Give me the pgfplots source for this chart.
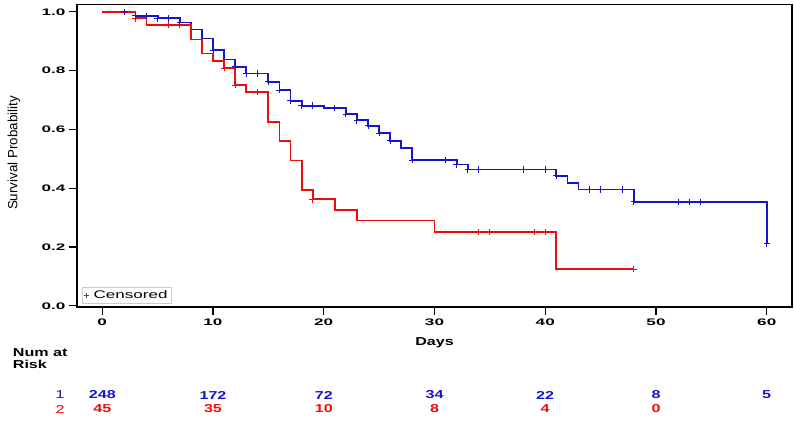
\documentclass[border=0pt]{standalone}
\usepackage{pgfplots}
\pgfplotsset{compat=1.18}
\usepackage{fontspec}
\setmainfont{Liberation Sans}
\newfontfamily\fA{Liberation Sans}[FakeStretch=1.8]
\newfontfamily\fB{Liberation Sans}[FakeStretch=1.4]
\newfontfamily\fC{Liberation Sans}[FakeStretch=1.55]
\definecolor{kmblue}{RGB}{20,20,205}
\definecolor{kmred}{RGB}{240,10,10}
\begin{document}
\begin{tikzpicture}[x=1pt,y=1pt]
\useasboundingbox (0,0) rectangle (796,422);
\begin{axis}[
  at={(77pt,115pt)}, anchor=south west,
  scale only axis, width=715pt, height=302.5pt,
  xmin=-2.28, xmax=62.28, ymin=-0.004, ymax=1.025,
  tick pos=left, tick align=outside, major tick length=8pt,
  xtick={0,10,20,30,40,50,60},
  ytick={0,0.2,0.4,0.6,0.8,1.0},
  /pgf/number format/assume math mode=true,
  yticklabel style={/pgf/number format/.cd, fixed, fixed zerofill, precision=1},
  tick label style={font=\fA\bfseries\fontsize{9.5}{10}\selectfont},
  axis line style={line width=1.3pt, black},
  every tick/.style={line width=1.3pt, black},
  clip=false,
  legend style={at={(axis description cs:0.007,0.012)}, anchor=south west,
    draw=black!20, font=\fC\fontsize{11}{12}\selectfont,
    inner xsep=2pt, inner ysep=1pt,
    /tikz/every odd column/.append style={column sep=3pt}},
  legend cell align=left,
  legend image code/.code={\draw[#1] plot[mark=+, mark size=2.2pt] coordinates {(5pt,0pt)};},
]
\addlegendimage{black!70, line width=0.6pt}
\addlegendentry{Censored}

\addplot[kmblue, line width=1.8pt, const plot, forget plot] coordinates {
(0,1.0)(3,0.986)(5,0.978)(7,0.964)(8,0.940)(9,0.909)(10,0.870)(11,0.838)(12,0.813)(13,0.790)(15,0.762)(16,0.734)(17,0.697)(18,0.681)(20,0.672)(22,0.652)(23,0.631)(24,0.612)(25,0.587)(26,0.561)(27,0.536)(28,0.496)(32,0.481)(33,0.464)(41,0.442)(42,0.419)(43,0.396)(48,0.354)(60,0.211)
};
\addplot[kmred, line width=1.8pt, const plot, forget plot] coordinates {
(0,1.0)(3,0.978)(4,0.955)(8,0.906)(9,0.858)(10,0.832)(11,0.808)(12,0.751)(13,0.728)(15,0.626)(16,0.561)(17,0.494)(18,0.394)(19,0.362)(21,0.326)(23,0.290)(30,0.251)(41,0.125)(48,0.125)
};
\addplot[kmred, only marks, mark=+, mark size=3.2pt, mark options={line width=1pt}, forget plot] coordinates {
(3,0.978)(6,0.955)(7,0.955)(11,0.808)(12,0.751)(14,0.728)(19,0.362)(34,0.251)(35,0.251)(39,0.251)(40,0.251)(48,0.125)
};
\addplot[kmblue, only marks, mark=+, mark size=3.2pt, mark options={line width=1pt}, forget plot] coordinates {
(2,1.0)(3,0.986)(4,0.986)(5,0.978)(6,0.978)(7,0.964)(10,0.870)(12,0.813)(13,0.790)(14,0.790)(15,0.762)(16,0.734)(17,0.697)(18,0.681)(19,0.681)(21,0.672)(22,0.652)(23,0.631)(24,0.612)(25,0.587)(26,0.561)(28,0.496)(31,0.496)(32,0.481)(33,0.464)(34,0.464)(38,0.464)(40,0.464)(41,0.442)(44,0.396)(45,0.396)(47,0.396)(48,0.354)(52,0.354)(53,0.354)(54,0.354)(60,0.211)
};
\end{axis}
\node[rotate=90, font=\fontsize{13.4}{15}\selectfont] at (14,269) {Survival Probability};
\node[font=\fB\bfseries\fontsize{11.5}{12}\selectfont] at (434.5,79) {Days};
\node[anchor=west, align=left, inner sep=0pt, font=\fB\bfseries\fontsize{11.5}{11.6}\selectfont] at (12.7,63.5) {Num at\\Risk};
\begin{scope}[every node/.style={font=\fB\bfseries\fontsize{11.5}{12}\selectfont, inner sep=0pt}]
\node[kmblue, font=\fB\fontsize{11.5}{12}\selectfont] at (60,27) {1};
\node[kmred, font=\fB\fontsize{11.5}{12}\selectfont] at (60,13) {2};
\node[kmblue] at (102.3,27) {248};
\node[kmblue] at (213.0,27) {172};
\node[kmblue] at (323.8,27) {72};
\node[kmblue] at (434.5,27) {34};
\node[kmblue] at (545.2,27) {22};
\node[kmblue] at (656.0,27) {8};
\node[kmblue] at (766.7,27) {5};
\node[kmred] at (102.3,13) {45};
\node[kmred] at (213.0,13) {35};
\node[kmred] at (323.8,13) {10};
\node[kmred] at (434.5,13) {8};
\node[kmred] at (545.2,13) {4};
\node[kmred] at (656.0,13) {0};
\end{scope}
\end{tikzpicture}
\end{document}
